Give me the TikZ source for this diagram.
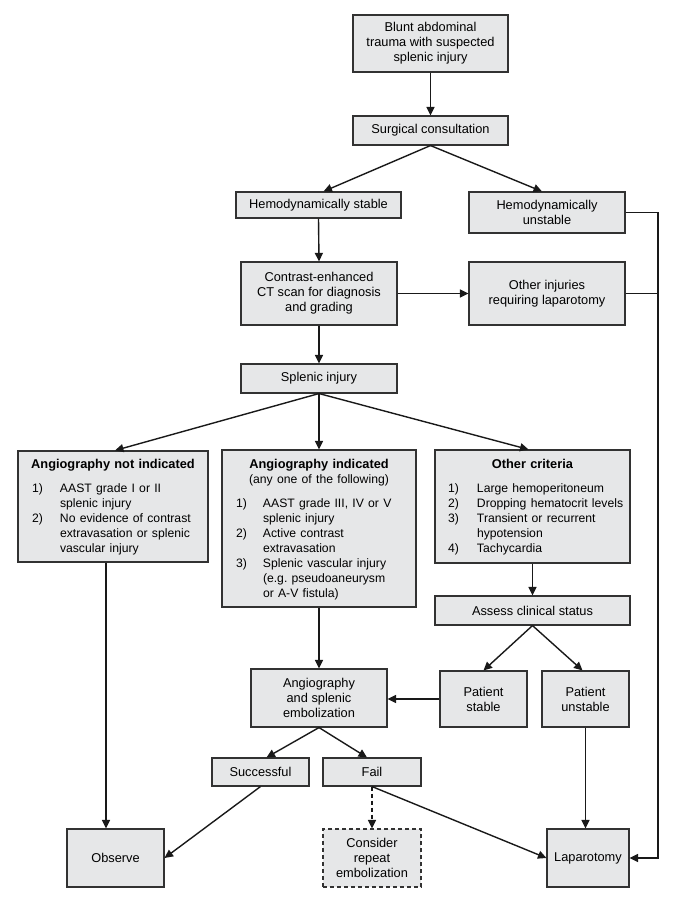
\documentclass[tikz,border=0pt]{standalone}
\usepackage{fontspec}
\setmainfont{Liberation Sans}
\usetikzlibrary{arrows.meta,calc}
\definecolor{boxfill}{RGB}{230,231,232}
\definecolor{boxline}{RGB}{50,50,50}
\newcommand{\itemfont}{\fontsize{12.2}{15}\selectfont}
\newcommand{\headstrut}{\rule{0pt}{13pt}}

\begin{document}
\begin{tikzpicture}[x=1pt,y=-1pt,>={Triangle[length=8.5pt,width=8pt]},
    font=\fontsize{12.8}{15}\selectfont]
  \tikzset{box/.style 2 args={draw=boxline,line width=1.1pt,fill=boxfill,align=center,
             inner sep=0pt,minimum width=#1,minimum height=#2},
           flow/.style={->,line width=1.4pt,black!90}}
  \tikzstyle{dashbox}=[dash pattern=on 4pt off 3pt]

  \useasboundingbox (0,0) rectangle (680,901);
  \coordinate (rail) at (658,0);

  % top of the chart
  \node[box={155}{57}] (blunt) at (430.5,43.5) {Blunt abdominal\\trauma with suspected\\splenic injury};
  \node[box={155}{29}] (surg) at (430.5,130.5) {Surgical consultation};
  \node[box={165}{26}] (hstable) at (318.5,205) {Hemodynamically stable};
  \node[box={156}{41}] (hunstable) at (547,212.5) {Hemodynamically\\unstable};
  \node[box={156}{63}] (ct) at (319,293.5) {Contrast-enhanced\\CT scan for diagnosis\\and grading};
  \node[box={156}{63}] (other) at (547,293.5) {Other injuries\\requiring laparotomy};
  \node[box={156}{29}] (splenic) at (319,378.5) {Splenic injury};

  % criteria boxes
  \node[box={190}{111},text width=190pt] (notind) at (113,506.5) {\headstrut\textbf{Angiography not indicated}\\[9pt]
    \itemfont\begin{tabular}[t]{@{\hspace{14pt}}p{28pt}@{}p{148pt}@{}}
      1) & AAST grade I or II\\
         & splenic injury\\
      2) & No evidence of contrast\\
         & extravasation or splenic\\
         & vascular injury
    \end{tabular}};
  \node[box={194}{157},text width=194pt] (ind) at (319,528.5) {\headstrut\textbf{Angiography indicated}\\
    \itemfont(any one of the following)\\[9pt]
    \begin{tabular}[t]{@{\hspace{14pt}}p{27pt}@{}p{153pt}@{}}
      1) & AAST grade III, IV or V\\
         & splenic injury\\
      2) & Active contrast\\
         & extravasation\\
      3) & Splenic vascular injury\\
         & (e.g.\ pseudoaneurysm\\
         & or A-V fistula)
    \end{tabular}};
  \node[box={195}{113},text width=195pt] (crit) at (532.5,506.5) {\headstrut\textbf{Other criteria}\\[9pt]
    \itemfont\begin{tabular}[t]{@{\hspace{13pt}}p{29pt}@{}p{153pt}@{}}
      1) & Large hemoperitoneum\\
      2) & Dropping hematocrit levels\\
      3) & Transient or recurrent\\
         & hypotension\\
      4) & Tachycardia
    \end{tabular}};

  % lower part
  \node[box={195}{29}] (assess) at (532.5,610.5) {Assess clinical status};
  \node[box={136}{58}] (embol) at (319,698) {Angiography\\and splenic\\embolization};
  \node[box={87}{56}] (pstable) at (483.5,699) {Patient\\stable};
  \node[box={87}{56}] (punstable) at (585.5,699) {Patient\\unstable};
  \node[box={97}{28}] (success) at (260.5,772) {Successful};
  \node[box={98}{28}] (fail) at (372,772) {Fail};
  \node[box={97}{58}] (obs) at (115.5,858) {Observe};
  \node[box={98}{58},dashbox] (repeat) at (372,858) {Consider\\repeat\\embolization};
  \node[box={82}{58}] (lap) at (588,858) {Laparotomy};

  % arrows
  \draw[flow] (blunt.south) -- (surg.north);
  \draw[flow] (surg.south) -- ([xshift=5pt]hstable.north);
  \draw[flow] (surg.south) -- ([xshift=-5pt]hunstable.north);
  \draw[flow] (hstable.south) -- (ct.north);
  \draw[flow] (ct.east) -- (other.west);
  \draw[flow] (ct.south) -- (splenic.north);
  \draw[flow] (splenic.south) -- ([xshift=2pt]notind.north);
  \draw[flow] (splenic.south) -- (ind.north);
  \draw[flow] (splenic.south) -- ([xshift=-4pt]crit.north);
  \draw[flow] ([xshift=-7pt]notind.south) -- ([xshift=-7pt]notind.south |- obs.north);
  \draw[flow] (ind.south) -- (embol.north);
  \draw[flow] (crit.south) -- (assess.north);
  \draw[flow] (assess.south) -- (pstable.north);
  \draw[flow] (assess.south) -- ([xshift=-3pt]punstable.north);
  \draw[flow] (pstable.west) -- (pstable.west -| embol.east);
  \draw[flow] (embol.south) -- ([xshift=6pt]success.north);
  \draw[flow] (embol.south) -- ([xshift=-5pt]fail.north);
  \draw[flow] (success.south) -- (obs.east);
  \draw[flow,dashbox] (fail.south) -- (repeat.north);
  \draw[flow] (fail.south) -- (lap.west);
  \draw[flow] (punstable.south) -- (punstable.south |- lap.north);

  % right rail to laparotomy
  \draw[flow] (hunstable.east) -- (hunstable.east -| rail) -- (lap.east -| rail) -- (lap.east);
  \draw[line width=1.4pt,black!90] (other.east) -- (other.east -| rail);

\end{tikzpicture}
\end{document}
